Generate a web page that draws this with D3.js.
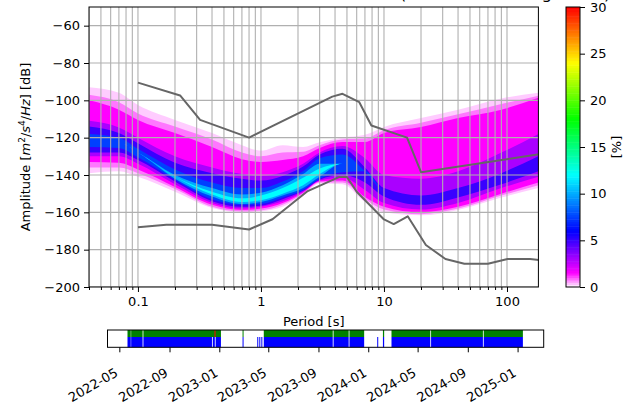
<!DOCTYPE html>
<html>
<head>
<meta charset="utf-8">
<script src="https://cdn.jsdelivr.net/npm/d3@7"></script>
<style>
  body { margin: 0; background: #fff; }
  text { font-family: "DejaVu Sans", sans-serif; fill: #000; }
</style>
</head>
<body>
<script>
// ---- data ----
var title_text = "AM.R7E3C.00.EHZ   2022-05-21--2025-01-14  (19734/19762 segments)";

// period nodes [s] where the density bands were read
var periods = [0.04, 0.07, 0.1, 0.2, 0.4, 0.7, 1.0, 1.5, 2.2, 3, 4.6, 7, 10, 20, 40, 90, 180];

// density levels [%] and the dB range where the density is above each level
var levels = [0.3, 0.8, 1.5, 3, 5, 7.5, 10, 12];
var top_03 = [-93, -96, -102.5, -110.5, -117.5, -124, -127, -124, -125, -122.5, -120, -118.5, -114.3, -109.5, -105, -99, -96];
var bot_03 = [-139, -138, -141, -149, -157.7, -160, -159.5, -157, -151, -144.5, -145, -154.5, -160, -161.6, -158.7, -152, -147];
var top_08 = [-97, -101, -107, -114, -121, -128, -130, -128, -127.5, -124, -121, -120.5, -116, -112, -107.5, -102, -97.5];
var bot_08 = [-136, -136, -139, -147.5, -157, -159.5, -159, -156, -150, -144, -144, -153, -158.5, -161, -158, -151, -145.5];
var top_15 = [-100, -105, -110.5, -117.5, -125, -131.5, -133, -132, -130, -125.5, -122.3, -122.3, -117.5, -114.3, -109.5, -105, -98.6];
var bot_15 = [-133, -133.5, -137, -146.4, -156, -158.7, -158, -155, -149.5, -143.5, -143, -151.8, -157, -160, -157, -150, -144];
var top_3  = [-111, -114.5, -120, -130, -136, -139.5, -140.5, -138.5, -134, -128, -124.5, -131, -140, -142, -138, -128, -118];
var bot_3  = [-130, -130, -134, -145, -155, -158, -157, -154, -149, -143, -141.5, -148, -155, -158.5, -155, -147, -141];
var top_5  = [-114, -117.5, -123, -133.5, -139, -142, -143, -140.5, -135.5, -129, -126, -136, -147, -151, -147, -139, -130];
var bot_5  = [-128, -128, -132, -143.5, -154, -157, -156.5, -153, -148.5, -142.5, -140, -144, -151.5, -156, -152, -145, -138];
var top_75 = [-118, -120, -126, -137, -144, -147, -147, -143.5, -138, -131, -129, -138, -149, -153.5, -149.5, -142, -134];
var bot_75 = [-125, -125.5, -130.5, -142.5, -153, -156, -155.5, -152, -148, -142, -138.5, -138, -149, -153.5, -149.5, -142, -134];
var top_10 = [-121.5, -122.5, -128, -140, -147, -150.5, -149.5, -145.5, -139.5, -134, -134, -138, -149, -153.5, -149.5, -142, -134];
var bot_10 = [-121.5, -122.5, -128, -142, -151.5, -155.5, -154.5, -151, -147, -141, -134, -138, -149, -153.5, -149.5, -142, -134];
var top_12 = [-121.5, -122.5, -128, -141, -149, -152.5, -151, -147, -141.5, -136.5, -134, -138, -149, -153.5, -149.5, -142, -134];
var bot_12 = [-121.5, -122.5, -128, -141, -150.5, -154.5, -153.5, -150, -145.5, -139.5, -134, -138, -149, -153.5, -149.5, -142, -134];

// Peterson noise models (period [s], dB)
var nhnm_p  = [0.1, 0.22, 0.32, 0.8, 3.8, 4.6, 6.3, 7.9, 15.4, 20, 354.8];
var nhnm_db = [-90.5, -97.4, -110.5, -120.0, -98.0, -96.5, -101.0, -113.5, -120.0, -138.5, -126.0];
var nlnm_p  = [0.1, 0.17, 0.4, 0.8, 1.24, 2.4, 4.3, 5.0, 6.0, 10, 12, 15.6, 21.9, 31.6, 45, 70, 101, 154, 328];
var nlnm_db = [-168.0, -166.7, -166.7, -169.2, -163.7, -148.6, -141.1, -141.1, -149.0, -163.8, -166.3, -162.1, -177.5, -185.0, -187.5, -187.5, -185.0, -185.0, -187.5];

var x_major = [0.1, 1, 10, 100];
var y_ticks = [-200, -180, -160, -140, -120, -100, -80, -60];
var cbar_ticks = [0, 5, 10, 15, 20, 25, 30];

// pqlx colour map
var cmap_stops  = [0, 1.5, 6, 12, 18, 24, 30];
var cmap_colors = ['#ffffff', '#ff00ff', '#0000ff', '#00ffff', '#00ff00', '#ffff00', '#ff0000'];

// data coverage (top row: processed, bottom row: in histogram)
var green_spans = [
  ['2022-05-21', '2022-05-29'], ['2022-05-30', '2022-06-27'], ['2022-06-29', '2023-01-05'],
  ['2023-02-27', '2023-03-01'], ['2023-04-20', '2023-10-06'], ['2023-10-08', '2023-11-14'],
  ['2023-11-16', '2023-12-22'], ['2024-02-06', '2024-02-09'], ['2024-02-27', '2024-06-01'],
  ['2024-06-03', '2024-10-08'], ['2024-10-10', '2025-01-14']
];
var blue_spans = [
  ['2022-05-21', '2022-05-29'], ['2022-05-30', '2022-06-27'], ['2022-06-29', '2022-12-14'],
  ['2022-12-16', '2022-12-21'], ['2022-12-23', '2023-01-05'], ['2023-02-27', '2023-03-01'],
  ['2023-04-04', '2023-04-05'], ['2023-04-09', '2023-04-10'], ['2023-04-14', '2023-04-15'],
  ['2023-04-20', '2023-10-06'], ['2023-10-08', '2023-11-14'], ['2023-11-16', '2023-12-22'],
  ['2024-01-23', '2024-01-24'], ['2024-02-06', '2024-02-09'], ['2024-02-27', '2024-06-01'],
  ['2024-06-03', '2024-10-08'], ['2024-10-10', '2025-01-14']
];
var gap_spans = [['2022-12-19', '2022-12-24']];
var time_ticks = ['2022-05', '2022-09', '2023-01', '2023-05', '2023-09', '2024-01', '2024-05', '2024-09', '2025-01'];
var time_domain = ['2022-04-02', '2025-03-06'];

// ---- layout ----
var width = 633, height = 406;
var plot = { left: 89, right: 538.4, top: 7, bottom: 287 };
var cbar = { left: 566, right: 580, top: 7, bottom: 287 };
var tl = { left: 107.5, right: 543.7, top: 330, mid: 337, bottom: 347.3 };
var font_size = 13;
var grid_color = '#b0b0b0';
var model_color = '#666666';

var svg = d3.select('body')
    .append('svg')
    .attr('width', width)
    .attr('height', height);

var x = d3.scaleLog().domain([0.04, 180]).range([plot.left, plot.right]);
var y = d3.scaleLinear().domain([-200, -50]).range([plot.bottom, plot.top]);
var pqlx = d3.scaleLinear().domain(cmap_stops).range(cmap_colors).clamp(true);

svg.append('clipPath').attr('id', 'plot_clip')
  .append('rect')
    .attr('x', plot.left).attr('y', plot.top)
    .attr('width', plot.right - plot.left).attr('height', plot.bottom - plot.top);

// title (mostly above the picture)
svg.append('text')
    .attr('x', (plot.left + plot.right) / 2)
    .attr('y', -1.5)
    .attr('text-anchor', 'middle')
    .style('font-size', '16.6px')
    .style('white-space', 'pre')
    .text(title_text);

// ---- density bands ----
var tops = [top_03, top_08, top_15, top_3, top_5, top_75, top_10, top_12];
var bots = [bot_03, bot_08, bot_15, bot_3, bot_5, bot_75, bot_10, bot_12];

var area = d3.area()
    .x(function(d) { return x(d.p); })
    .y0(function(d) { return y(d.lo); })
    .y1(function(d) { return y(d.hi); })
    .curve(d3.curveMonotoneX);

var heat = svg.append('g').attr('clip-path', 'url(#plot_clip)');
levels.forEach(function(lev, i) {
  var pts = periods.map(function(p, j) { return { p: p, hi: tops[i][j], lo: bots[i][j] }; });
  heat.append('path')
      .datum(pts)
      .attr('d', area)
      .attr('fill', pqlx(lev));
});

// ---- grid ----
var x_all = [];
[-2, -1, 0, 1, 2].forEach(function(e) {
  for (var k = 1; k <= 9; k++) {
    var v = +(k * Math.pow(10, e)).toPrecision(3);
    if (v >= 0.04 && v <= 180) x_all.push(v);
  }
});
var x_minor = x_all.filter(function(v) { return x_major.indexOf(v) < 0; });

var grid = svg.append('g').attr('clip-path', 'url(#plot_clip)');
grid.selectAll('line.v').data(x_all).enter().append('line')
    .attr('x1', function(d) { return x(d); }).attr('x2', function(d) { return x(d); })
    .attr('y1', plot.top).attr('y2', plot.bottom)
    .attr('stroke', grid_color).attr('stroke-width', 1.1);
grid.selectAll('line.h').data(y_ticks).enter().append('line')
    .attr('y1', function(d) { return y(d); }).attr('y2', function(d) { return y(d); })
    .attr('x1', plot.left).attr('x2', plot.right)
    .attr('stroke', grid_color).attr('stroke-width', 1.1);

// ---- noise models ----
var model_line = d3.line()
    .x(function(d) { return x(d[0]); })
    .y(function(d) { return y(d[1]); });
var models = svg.append('g').attr('clip-path', 'url(#plot_clip)');
[[nhnm_p, nhnm_db], [nlnm_p, nlnm_db]].forEach(function(m) {
  models.append('path')
      .datum(m[0].map(function(p, i) { return [p, m[1][i]]; }))
      .attr('d', model_line)
      .attr('fill', 'none')
      .attr('stroke', model_color)
      .attr('stroke-width', 2)
      .attr('stroke-linejoin', 'round');
});

// ---- axes ----
svg.append('rect')
    .attr('x', plot.left).attr('y', plot.top)
    .attr('width', plot.right - plot.left).attr('height', plot.bottom - plot.top)
    .attr('fill', 'none').attr('stroke', '#000').attr('stroke-width', 1);

var xaxis = svg.append('g')
    .attr('transform', `translate(0, ${plot.bottom})`)
    .call(d3.axisBottom(x).tickValues(x_major).tickSize(5).tickPadding(5)
          .tickFormat(function(d) { return d < 1 ? String(d) : d3.format('d')(d); }));
svg.append('g')
    .attr('transform', `translate(0, ${plot.bottom})`)
    .call(d3.axisBottom(x).tickValues(x_minor).tickSize(3).tickFormat(''));

var yaxis = svg.append('g')
    .attr('transform', `translate(${plot.left}, 0)`)
    .call(d3.axisLeft(y).tickValues(y_ticks).tickSize(5).tickPadding(4)
          .tickFormat(function(d) { return '\u2212' + Math.abs(d); }));

svg.append('text')
    .attr('x', (plot.left + plot.right) / 2)
    .attr('y', 326)
    .attr('text-anchor', 'middle')
    .style('font-size', font_size + 'px')
    .text('Period [s]');

var ylab = svg.append('text')
    .attr('transform', `translate(30, ${(plot.top + plot.bottom) / 2}) rotate(-90)`)
    .attr('text-anchor', 'middle')
    .style('font-size', font_size + 'px');
ylab.append('tspan').text('Amplitude [');
ylab.append('tspan').style('font-style', 'italic').text('m');
ylab.append('tspan').attr('dy', -5).style('font-size', '9px').text('2');
ylab.append('tspan').attr('dy', 5).text('/');
ylab.append('tspan').style('font-style', 'italic').text('s');
ylab.append('tspan').attr('dy', -5).style('font-size', '9px').text('4');
ylab.append('tspan').attr('dy', 5).text('/');
ylab.append('tspan').style('font-style', 'italic').text('Hz');
ylab.append('tspan').text('] [dB]');

// ---- colour bar ----
var cy = d3.scaleLinear().domain([0, 30]).range([cbar.bottom, cbar.top]);
var cbar_steps = d3.range(0, 30, 0.25);
svg.append('g').selectAll('rect').data(cbar_steps).enter().append('rect')
    .attr('x', cbar.left)
    .attr('y', function(d) { return cy(d + 0.25); })
    .attr('width', cbar.right - cbar.left)
    .attr('height', function(d) { return cy(d) - cy(d + 0.25) + 0.5; })
    .attr('fill', function(d) { return pqlx(d + 0.125); });
svg.append('rect')
    .attr('x', cbar.left).attr('y', cbar.top)
    .attr('width', cbar.right - cbar.left).attr('height', cbar.bottom - cbar.top)
    .attr('fill', 'none').attr('stroke', '#000').attr('stroke-width', 1);
svg.append('g')
    .attr('transform', `translate(${cbar.right}, 0)`)
    .call(d3.axisRight(cy).tickValues(cbar_ticks).tickSize(5).tickPadding(5));
svg.append('text')
    .attr('transform', `translate(621, ${(cbar.top + cbar.bottom) / 2}) rotate(-90)`)
    .attr('text-anchor', 'middle')
    .style('font-size', font_size + 'px')
    .text('[%]');

// ---- coverage strip ----
var parse = d3.utcParse('%Y-%m-%d');
var t = d3.scaleUtc().domain(time_domain.map(parse)).range([tl.left, tl.right]);
function span_rects(spans, y0, y1, fill, opacity) {
  svg.append('g').selectAll('rect').data(spans).enter().append('rect')
      .attr('x', function(d) { return t(parse(d[0])); })
      .attr('y', y0)
      .attr('width', function(d) { return Math.max(1, t(parse(d[1])) - t(parse(d[0]))); })
      .attr('height', y1 - y0)
      .attr('fill', fill)
      .attr('fill-opacity', opacity);
}
span_rects(green_spans, tl.top, tl.mid, '#008000', 1);
span_rects(blue_spans, tl.mid, tl.bottom, '#0000ff', 1);
span_rects(gap_spans, tl.top, tl.mid, '#ff0000', 0.5);

svg.append('rect')
    .attr('x', tl.left).attr('y', tl.top)
    .attr('width', tl.right - tl.left).attr('height', tl.bottom - tl.top)
    .attr('fill', 'none').attr('stroke', '#000').attr('stroke-width', 1);

var tparse = d3.utcParse('%Y-%m');
var taxis = svg.append('g')
    .attr('transform', `translate(0, ${tl.bottom})`)
    .call(d3.axisBottom(t).tickValues(time_ticks.map(tparse)).tickSize(5)
          .tickFormat(d3.utcFormat('%Y-%m')));
taxis.selectAll('text')
    .attr('text-anchor', 'end')
    .attr('dy', null)
    .attr('y', null)
    .attr('transform', 'translate(-1, 28) rotate(-30)');

// shared axis styling
svg.selectAll('.domain').remove();
svg.selectAll('.tick line').attr('stroke', '#000').attr('stroke-width', 1);
svg.selectAll('.tick text')
    .style('font-family', '"DejaVu Sans", sans-serif')
    .style('font-size', font_size + 'px')
    .attr('fill', '#000');
</script>
</body>
</html>
